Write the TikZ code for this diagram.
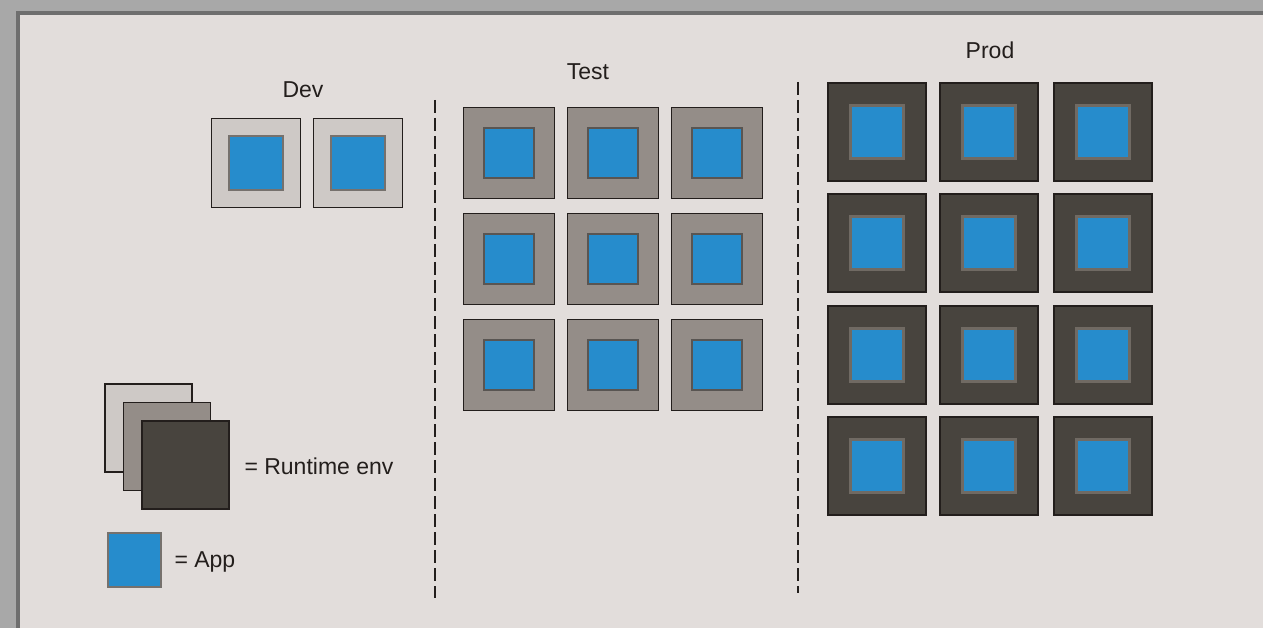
\documentclass[tikz,border=0pt]{standalone}
\usepackage{fontspec}
\setmainfont{Liberation Sans}
\usepackage{xcolor}
\usetikzlibrary{positioning, calc}
\definecolor{rtpage}{RGB}{226,221,219}
\definecolor{rtframe}{RGB}{168,168,168}
\definecolor{rtshadow}{RGB}{110,110,110}
\definecolor{rtdev}{RGB}{206,201,198}
\definecolor{rttest}{RGB}{148,141,136}
\definecolor{rtprod}{RGB}{72,68,62}
\definecolor{rtprodrim}{RGB}{112,106,99}
\definecolor{rtblue}{RGB}{38,140,204}
\definecolor{rtink}{RGB}{35,30,28}

\tikzset{
  envlabel/.style={rtink, font=\fontsize{23}{26}\selectfont},
  divider/.style={rtink, line width=2.6pt, dash pattern=on 13pt off 5pt}
}

\begin{document}
\begin{tikzpicture}[x=1pt, y=-1pt]
% photo frame
\fill[rtframe] (0,0) rectangle (1263,628);
\fill[rtshadow] (16,11) rectangle (1263,628);
\fill[rtpage] (20,15) rectangle (1263,628);
\useasboundingbox (0,0) rectangle (1263,628);

% env box: centre x, centre y, size, ring colour, app size, rim colour
\def\envbox#1#2#3#4#5#6{%
  \fill[#4] (#1-#3/2,#2-#3/2) rectangle (#1+#3/2,#2+#3/2);
  \draw[rtink, line width=1.6pt] (#1-#3/2,#2-#3/2) rectangle (#1+#3/2,#2+#3/2);
  \fill[rtblue] (#1-#5/2,#2-#5/2) rectangle (#1+#5/2,#2+#5/2);
  \draw[#6, line width=2.5pt] (#1-#5/2,#2-#5/2) rectangle (#1+#5/2,#2+#5/2);
}

% ---- dev ----
\node[envlabel] (devlbl) at (303,90) {Dev};
\foreach \x in {256, 358}{
  \envbox{\x}{163}{89}{rtdev}{54}{rttest!80!black}
}

% ---- dividers ----
\coordinate (divAtop) at (435,100);
\coordinate (divAbot) at (435,598);
\coordinate (divBtop) at (798,82);
\coordinate (divBbot) at (798,593);
\draw[divider] (divAtop) -- (divAbot);
\draw[divider] (divBtop) -- (divBbot);

% ---- test ----
\node[envlabel] (testlbl) at (588,72) {Test};
\foreach \x in {509, 613, 717}{
  \foreach \y in {153, 259, 365}{
    \envbox{\x}{\y}{91}{rttest}{50}{rttest!60!black}
  }
}

% ---- prod ----
\node[envlabel] (prodlbl) at (990,50) {Prod};
\foreach \x in {877, 989, 1103}{
  \foreach \y in {132, 243, 355, 466}{
    \envbox{\x}{\y}{98}{rtprod}{53}{rtprodrim}
  }
}

% ---- legend ----
\foreach \dx/\col in {0/rtdev, 18.5/rttest, 37/rtprod}{
  \fill[\col] (105+\dx,384+\dx) rectangle (192+\dx,472+\dx);
  \draw[rtink, line width=1.4pt] (105+\dx,384+\dx) rectangle (192+\dx,472+\dx);
}
\node[envlabel, anchor=west] (envkey) at (241,466) {= Runtime env};
\fill[rtblue] (108,533) rectangle (161,587);
\draw[rttest!80!black, line width=2pt] (108,533) rectangle (161,587);
\node[envlabel, anchor=west] (appkey) at (171,562) {= App};
\end{tikzpicture}
\end{document}
